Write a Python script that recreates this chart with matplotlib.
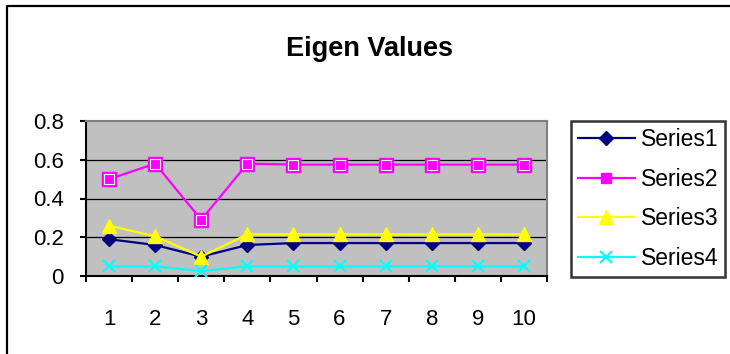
import matplotlib
matplotlib.use("Agg")
import matplotlib.pyplot as plt
from matplotlib.lines import Line2D
import numpy as np

plt.rcParams['font.family'] = ['Liberation Sans', 'DejaVu Sans']

categories = [1, 2, 3, 4, 5, 6, 7, 8, 9, 10]
series1 = [0.19, 0.16, 0.10, 0.16, 0.17, 0.17, 0.17, 0.17, 0.17, 0.17]
series2 = [0.50, 0.58, 0.29, 0.58, 0.575, 0.575, 0.575, 0.575, 0.575, 0.575]
series3 = [0.26, 0.205, 0.10, 0.215, 0.215, 0.215, 0.215, 0.215, 0.215, 0.215]
series4 = [0.05, 0.05, 0.025, 0.05, 0.05, 0.05, 0.05, 0.05, 0.05, 0.05]
names = ['Series1', 'Series2', 'Series3', 'Series4']
title = 'Eigen Values'

W, H = 730, 354
fig = plt.figure(figsize=(W / 100, H / 100), dpi=100)
ax = fig.add_axes([86 / W, 1 - 276 / H, (547 - 86) / W, (276 - 121) / H])
ax.set_facecolor('#C0C0C0')

x = np.arange(len(categories)) + 1
l1, = ax.plot(x, series1, color='#000080', lw=1.6, marker='D', ms=7.5,
              mfc='#000080', mec='#000080', zorder=3)
l2, = ax.plot(x, series2, color='#FF00FF', lw=1.6, marker='s', ms=9.5,
              mfc='#FF00FF', mec='#FF00FF', zorder=3)
ax.plot(x, series2, ls='none', marker='s', ms=6.8, mfc='#FF00FF',
        mec='white', mew=0.8, zorder=4)
l3, = ax.plot(x, series3, color='#FFFF00', lw=1.6, marker='^', ms=10,
              mfc='#FFFF00', mec='#FFFF00', zorder=3)
l4, = ax.plot(x, series4, color='#00FFFF', lw=1.6, marker='x', ms=9,
              mew=1.6, mec='#00FFFF', zorder=3)

ax.set_xlim(0.5, len(categories) + 0.5)
ax.set_ylim(0, 0.8)
ax.set_yticks([0, 0.2, 0.4, 0.6, 0.8])
ax.set_yticklabels(['0', '0.2', '0.4', '0.6', '0.8'])
ax.set_xticks(x)
ax.set_xticklabels([str(c) for c in categories])
ax.set_xticks(np.arange(0.5, len(categories) + 1, 1), minor=True)
ax.tick_params(axis='x', which='major', length=0, pad=24, labelsize=16)
ax.tick_params(axis='x', which='minor', length=4.5, width=1.5, direction='out')
ax.tick_params(axis='y', which='major', length=4, width=1.5, pad=12, labelsize=16)
for yv in [0.2, 0.4, 0.6]:
    ax.axhline(yv, color='black', lw=0.9, zorder=1)
for s in ['left', 'bottom']:
    ax.spines[s].set_color('black')
    ax.spines[s].set_linewidth(1.5)
for s in ['top', 'right']:
    ax.spines[s].set_color('#808080')
    ax.spines[s].set_linewidth(1.5)

fig.text(370 / W, 1 - 56 / H, title, ha='center', va='baseline',
         fontsize=19.5, fontweight='bold')

# outer chart border (left and top visible)
fig.add_artist(Line2D([7 / W, 7 / W, 1.0], [0.0, 1 - 6 / H, 1 - 6 / H],
                      transform=fig.transFigure, color='black', lw=1.6))

h1 = Line2D([], [], color='#000080', lw=1.6, marker='D', ms=7.5, mfc='#000080', mec='#000080')
h2 = Line2D([], [], color='#FF00FF', lw=1.6, marker='s', ms=7, mfc='#FF00FF', mec='#FF00FF')
h3 = Line2D([], [], color='#FFFF00', lw=1.6, marker='^', ms=10, mfc='#FFFF00', mec='#FFFF00')
h4 = Line2D([], [], color='#00FFFF', lw=1.6, marker='x', ms=9, mew=1.6, mec='#00FFFF')
leg = fig.legend([h1, h2, h3, h4], names, loc='center',
                 bbox_to_anchor=(648 / W, 1 - 199 / H),
                 fontsize=16.5, frameon=True, fancybox=False,
                 edgecolor='black', handlelength=2.5, handletextpad=0.25,
                 labelspacing=0.72, borderpad=0.3, borderaxespad=0)
leg.get_frame().set_linewidth(1.8)

fig.savefig('out.png', dpi=100)
